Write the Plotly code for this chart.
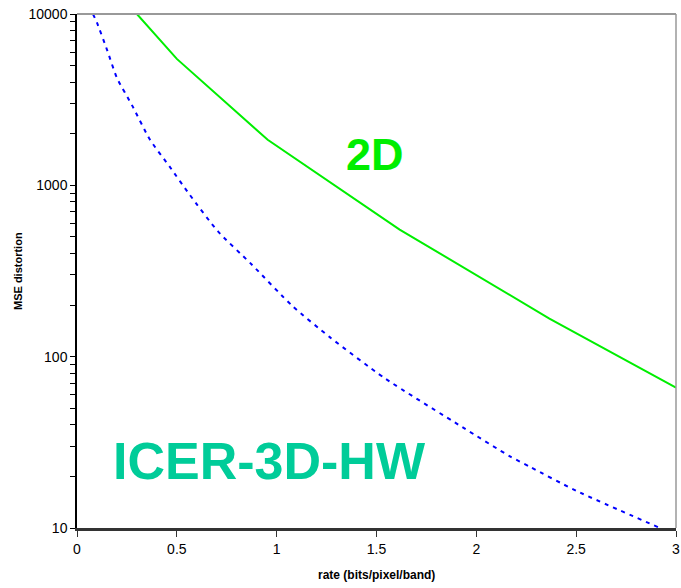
import plotly.graph_objects as go

rate_2d = [0.30, 0.50, 0.955, 1.616, 2.366, 3.0]
mse_2d = [10000, 5470, 1846, 552, 167, 66]

rate_3d = [0.08, 0.10, 0.15, 0.20, 0.28, 0.365, 0.465, 0.565, 0.705, 0.875, 1.08, 1.266,
           1.54, 1.93, 2.166, 2.27, 2.5, 2.92]
mse_3d = [10000, 8900, 6200, 4240, 2870, 1850, 1280, 880, 540, 345, 197, 130,
          75, 38.8, 26.3, 22.7, 16.5, 10]

x_ticks = [0, 0.5, 1, 1.5, 2, 2.5, 3]
x_tick_text = ["0", "0.5", "1", "1.5", "2", "2.5", "3"]
y_major = [10, 100, 1000, 10000]
y_major_text = ["10", "100", "1000", "10000"]
y_minor = [m * d for d in (10, 100, 1000) for m in range(2, 10)]

GREEN = "#00EE00"
TEAL = "#00CC99"
FONT = "Liberation Sans, Arial, sans-serif"

W, H = 681, 588
L, R, T, B = 77, 5, 14, 60
PW, PH = W - L - R, H - T - B

fig = go.Figure()
fig.add_trace(go.Scatter(x=rate_2d, y=mse_2d, mode="lines",
                         line=dict(color=GREEN, width=2), showlegend=False))
fig.add_trace(go.Scatter(x=rate_3d, y=mse_3d, mode="lines", line_shape="spline",
                         line=dict(color="#0000FF", width=2, dash="4px,5px", smoothing=0.6),
                         showlegend=False))

fig.add_annotation(x=1.493, y=3.179, xref="x", yref="y", text="<b>2D</b>",
                   showarrow=False, font=dict(family=FONT, size=45, color=GREEN))
fig.add_annotation(x=0.965, y=1.391, xref="x", yref="y", text="<b>ICER-3D-HW</b>",
                   showarrow=False, font=dict(family=FONT, size=52, color=TEAL))

# axis titles
fig.add_annotation(x=(376 - L) / PW, y=-(575 - (T + PH)) / PH, xref="paper", yref="paper",
                   yanchor="middle", text="<b>rate (bits/pixel/band)</b>", showarrow=False,
                   font=dict(family=FONT, size=12, color="black"))
fig.add_annotation(x=(18 - L) / PW, y=(T + PH - 271) / PH, xref="paper", yref="paper",
                   xanchor="center", text="<b>MSE distortion</b>", showarrow=False,
                   textangle=-90, font=dict(family=FONT, size=11, color="black"))

# top & right borders (gray)
fig.add_shape(type="line", xref="paper", yref="paper", x0=0, x1=1, y0=1, y1=1,
              line=dict(color="#999999", width=2))
fig.add_shape(type="line", xref="paper", yref="paper", x0=1, x1=1, y0=0, y1=1,
              line=dict(color="#999999", width=1.5))

fig.update_layout(
    width=W, height=H,
    margin=dict(l=L, r=R, t=T, b=B),
    plot_bgcolor="white", paper_bgcolor="white",
    font=dict(family=FONT, color="black"),
    xaxis=dict(range=[0, 3], tickvals=x_ticks, ticktext=x_tick_text, automargin=False,
               showgrid=False, zeroline=False, showline=True,
               linecolor="#333333", linewidth=2.5,
               ticks="outside", ticklen=6, tickcolor="#333333", tickwidth=1,
               tickfont=dict(size=14)),
    yaxis=dict(type="log", range=[1, 4], automargin=False,
               tickvals=y_major + y_minor,
               ticktext=y_major_text + [""] * len(y_minor),
               showgrid=False, zeroline=False, showline=True,
               linecolor="black", linewidth=1.5,
               ticks="outside", ticklen=5, tickcolor="black", tickwidth=1,
               tickfont=dict(size=14)),
)

fig.write_html("out.html", config={"displayModeBar": False},
               post_script="document.body.style.margin='0px';document.body.style.overflow='hidden';")
